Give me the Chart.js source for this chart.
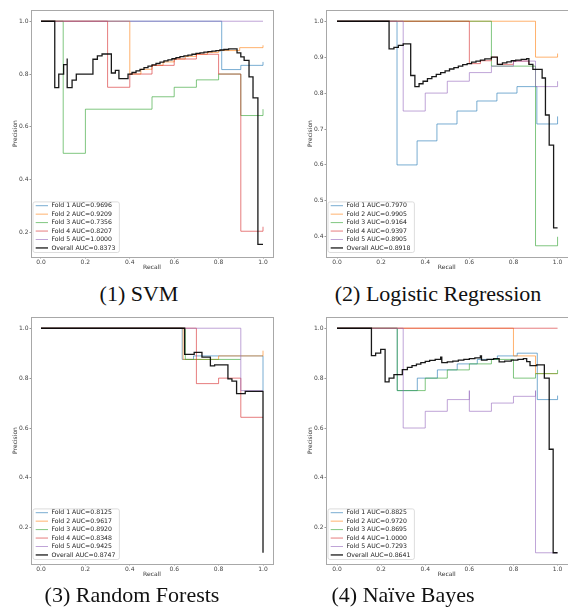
<!DOCTYPE html>
<html>
<head>
<meta charset="utf-8">
<script src="https://cdn.jsdelivr.net/npm/chart.js@4.4.0/dist/chart.umd.min.js"></script>
<style>
    body { margin: 0; background: #fff; width: 568px; height: 615px; position: relative; overflow: hidden; }
    canvas { position: absolute; }
    .cap { position: absolute; font-family: "Liberation Serif", serif; font-size: 22px; line-height: 22px; color: #111; transform: translateX(-50%); white-space: nowrap; }
</style>
</head>
<body>
<canvas id="svmChart" width="284" height="276" style="left:0px;top:0px"></canvas>
<canvas id="lrChart" width="284" height="276" style="left:284px;top:0px"></canvas>
<canvas id="rfChart" width="284" height="276" style="left:0px;top:307px"></canvas>
<canvas id="nbChart" width="284" height="276" style="left:284px;top:307px"></canvas>
<div class="cap" style="left:139px;top:283px">(1) SVM</div>
<div class="cap" style="left:438px;top:283px">(2) Logistic Regression</div>
<div class="cap" style="left:132px;top:584px">(3) Random Forests</div>
<div class="cap" style="left:403px;top:584px">(4) Naïve Bayes</div>

<script>
// curves are [recall, precision] pairs, drawn as post-steps
var svmLabels = ['Fold 1 AUC=0.9696', 'Fold 2 AUC=0.9209', 'Fold 3 AUC=0.7356', 'Fold 4 AUC=0.8207', 'Fold 5 AUC=1.0000', 'Overall AUC=0.8373'];
var svmFold1 = [[0, 1.0], [0.814, 0.817], [0.90, 0.833], [1.0, 0.846]];
var svmFold2 = [[0, 1.0], [0.40, 0.80], [0.45, 0.818], [0.50, 0.833], [0.55, 0.846], [0.60, 0.857], [0.65, 0.867], [0.70, 0.875], [0.75, 0.882], [0.80, 0.889], [0.895, 0.90], [1.0, 0.909]];
var svmFold3 = [[0, 1.0], [0.10, 0.50], [0.20, 0.667], [0.50, 0.714], [0.60, 0.75], [0.70, 0.778], [0.80, 0.80], [0.90, 0.643], [1.0, 0.667]];
var svmFold4 = [[0, 1.0], [0.30, 0.75], [0.40, 0.80], [0.50, 0.833], [0.60, 0.857], [0.70, 0.875], [0.80, 0.80], [0.90, 0.205], [1.0, 0.222]];
var svmFold5 = [[0, 1.0], [1.0, 1.0]];
var svmOverall = [[0, 1.0], [0.062, 0.749], [0.08, 0.80], [0.102, 0.836], [0.118, 0.859], [0.118, 0.749], [0.14, 0.777], [0.159, 0.80],
    [0.234, 0.856], [0.254, 0.869], [0.275, 0.876], [0.317, 0.804], [0.335, 0.814], [0.351, 0.783], [0.392, 0.80], [0.41, 0.806],
    [0.428, 0.812], [0.446, 0.818], [0.464, 0.824], [0.482, 0.83], [0.50, 0.835], [0.518, 0.84], [0.536, 0.845], [0.554, 0.85],
    [0.572, 0.854], [0.59, 0.858], [0.608, 0.862], [0.626, 0.866], [0.644, 0.869], [0.662, 0.872], [0.68, 0.875], [0.698, 0.878],
    [0.716, 0.88], [0.734, 0.883], [0.752, 0.885], [0.77, 0.887], [0.788, 0.889], [0.806, 0.891], [0.824, 0.893], [0.845, 0.895],
    [0.883, 0.88], [0.90, 0.865], [0.915, 0.852], [0.937, 0.789], [0.955, 0.71], [0.977, 0.155], [1.0, 0.155]];

var lrLabels = ['Fold 1 AUC=0.7970', 'Fold 2 AUC=0.9905', 'Fold 3 AUC=0.9164', 'Fold 4 AUC=0.9397', 'Fold 5 AUC=0.8905', 'Overall AUC=0.8918'];
var lrFold1 = [[0, 1.0], [0.272, 0.60], [0.363, 0.667], [0.453, 0.714], [0.544, 0.75], [0.634, 0.778], [0.725, 0.80], [0.816, 0.818], [0.906, 0.714], [1.0, 0.735]];
var lrFold2 = [[0, 1.0], [0.90, 0.90], [1.0, 0.91]];
var lrFold3 = [[0, 1.0], [0.70, 0.875], [0.90, 0.375], [1.0, 0.40]];
var lrFold4 = [[0, 1.0], [0.60, 0.882], [0.65, 0.89], [0.70, 0.90], [0.727, 0.88], [0.80, 0.889], [0.87, 0.88]];
var lrFold5 = [[0, 1.0], [0.30, 0.75], [0.40, 0.80], [0.50, 0.833], [0.60, 0.857], [0.70, 0.875], [0.80, 0.889], [0.90, 0.818], [1.0, 0.833]];
var lrOverall = [[0, 1.0], [0.236, 0.923], [0.258, 0.927], [0.278, 0.933], [0.30, 0.937], [0.334, 0.849], [0.353, 0.818], [0.372, 0.826],
    [0.39, 0.833], [0.41, 0.84], [0.43, 0.846], [0.45, 0.852], [0.47, 0.857], [0.49, 0.862], [0.51, 0.867], [0.53, 0.871],
    [0.55, 0.875], [0.57, 0.879], [0.59, 0.882], [0.61, 0.886], [0.63, 0.889], [0.65, 0.892], [0.67, 0.895], [0.70, 0.90],
    [0.727, 0.88], [0.75, 0.884], [0.77, 0.887], [0.79, 0.89], [0.81, 0.892], [0.835, 0.894], [0.86, 0.896], [0.87, 0.88],
    [0.888, 0.866], [0.93, 0.842], [0.945, 0.739], [0.962, 0.655], [0.982, 0.425], [1.0, 0.425]];

var rfLabels = ['Fold 1 AUC=0.8125', 'Fold 2 AUC=0.9617', 'Fold 3 AUC=0.8920', 'Fold 4 AUC=0.8348', 'Fold 5 AUC=0.9425', 'Overall AUC=0.8747'];
var rfFold1 = [[0, 1.0], [0.636, 0.875], [0.687, 0.889], [1.0, 0.75]];
var rfFold2 = [[0, 1.0], [0.64, 0.875], [0.80, 0.889], [1.0, 0.91]];
var rfFold3 = [[0, 1.0], [0.65, 0.875], [0.90, 0.875]];
var rfFold4 = [[0, 1.0], [0.70, 0.778], [0.80, 0.80], [0.90, 0.643], [1.0, 0.643]];
var rfFold5 = [[0, 1.0], [0.90, 0.75], [1.0, 0.75]];
var rfOverall = [[0, 1.0], [0.647, 0.895], [0.69, 0.903], [0.725, 0.884], [0.763, 0.849], [0.782, 0.853], [0.842, 0.797],
    [0.86, 0.788], [0.881, 0.738], [0.92, 0.747], [1.0, 0.1]];

var nbLabels = ['Fold 1 AUC=0.8825', 'Fold 2 AUC=0.9720', 'Fold 3 AUC=0.8695', 'Fold 4 AUC=1.0000', 'Fold 5 AUC=0.7293', 'Overall AUC=0.8641'];
var nbFold1 = [[0, 1.0], [0.273, 0.75], [0.364, 0.80], [0.455, 0.833], [0.545, 0.857], [0.636, 0.875], [0.727, 0.889], [0.817, 0.90], [0.908, 0.714], [1.0, 0.73]];
var nbFold2 = [[0, 1.0], [0.80, 0.889], [0.90, 0.818], [1.0, 0.818]];
var nbFold3 = [[0, 1.0], [0.273, 0.75], [0.40, 0.80], [0.50, 0.833], [0.60, 0.857], [0.70, 0.875], [0.80, 0.80], [0.90, 0.818], [1.0, 0.833]];
var nbFold4 = [[0, 1.0], [1.0, 1.0]];
var nbFold5 = [[0, 1.0], [0.30, 0.60], [0.40, 0.667], [0.50, 0.714], [0.60, 0.75], [0.60, 0.667], [0.70, 0.70], [0.80, 0.727], [0.90, 0.75], [0.90, 0.10], [1.0, 0.10]];
var nbOverall = [[0, 1.0], [0.156, 0.89], [0.175, 0.90], [0.198, 0.915], [0.218, 0.785], [0.236, 0.80], [0.258, 0.814], [0.296, 0.834],
    [0.319, 0.843], [0.34, 0.85], [0.36, 0.856], [0.38, 0.862], [0.40, 0.867], [0.42, 0.871], [0.445, 0.875], [0.47, 0.884],
    [0.475, 0.862], [0.50, 0.865], [0.525, 0.868], [0.55, 0.872], [0.575, 0.875], [0.60, 0.878], [0.625, 0.881], [0.65, 0.889],
    [0.655, 0.872], [0.68, 0.875], [0.71, 0.878], [0.735, 0.865], [0.76, 0.868], [0.79, 0.872], [0.82, 0.875], [0.845, 0.878],
    [0.86, 0.866], [0.875, 0.85], [0.905, 0.853], [0.94, 0.80], [0.962, 0.515], [0.98, 0.10], [1.0, 0.10]];

var recallTicks = [0.0, 0.2, 0.4, 0.6, 0.8, 1.0];
var precisionTicks = [0.2, 0.4, 0.6, 0.8, 1.0];
var precisionTicksLR = [0.4, 0.5, 0.6, 0.7, 0.8, 0.9, 1.0];

var foldColors = ['31, 119, 180', '255, 127, 14', '44, 160, 44', '214, 39, 40', '148, 103, 189'];
var tickFont = { family: '"DejaVu Sans", sans-serif', size: 6 };

var framePlugin = {
    id: 'frame',
    beforeDatasetsDraw: function (chart) {
        var a = chart.chartArea;
        var ctx = chart.ctx;
        ctx.save();
        ctx.strokeStyle = '#a8a8a8';
        ctx.lineWidth = 1;
        ctx.strokeRect(Math.round(a.left) + 0.5, Math.round(a.top) + 0.5, Math.round(a.right - a.left), Math.round(a.bottom - a.top));
        ctx.restore();
    }
};

var legendPlugin = {
    id: 'insideLegend',
    afterDatasetsDraw: function (chart) {
        var ctx = chart.ctx;
        var a = chart.chartArea;
        var sets = chart.data.datasets;
        ctx.save();
        ctx.font = '6.2px "DejaVu Sans"';
        var textW = 0;
        sets.forEach(function (ds) { textW = Math.max(textW, ctx.measureText(ds.label).width); });
        var rowH = 8.45;
        var w = 18.4 + textW + 4;
        var h = 50.6;
        var x = a.left + 2;
        var y = a.bottom - 4.5 - h;
        ctx.fillStyle = 'rgba(255, 255, 255, 0.85)';
        ctx.strokeStyle = '#d4d4d4';
        ctx.lineWidth = 0.8;
        ctx.beginPath();
        ctx.roundRect(x, y, w, h, 2);
        ctx.fill();
        ctx.stroke();
        sets.forEach(function (ds, i) {
            var cy = y + 3.8 + i * rowH;
            ctx.strokeStyle = ds.borderColor;
            ctx.lineWidth = ds.borderWidth;
            ctx.beginPath();
            ctx.moveTo(x + 2.7, cy);
            ctx.lineTo(x + 15, cy);
            ctx.stroke();
            ctx.fillStyle = '#222';
            ctx.textBaseline = 'middle';
            ctx.fillText(ds.label, x + 18.4, cy);
        });
        ctx.restore();
    }
};

function toPoints(pairs) {
    return pairs.map(function (p) { return { x: p[0], y: p[1] }; });
}

function makeChart(id, curves, labels, yMin, yMax, yTicks, yAxisW, padRight, xMin, xMax, yTitlePad) {
    var datasets = curves.map(function (c, i) {
        var overall = i === curves.length - 1;
        return {
            label: labels[i],
            data: toPoints(c),
            stepped: true,
            borderColor: overall ? 'rgba(0, 0, 0, 0.9)' : 'rgba(' + foldColors[i] + ', 0.6)',
            borderWidth: overall ? 1.3 : 1,
            pointRadius: 0,
            fill: false,
            order: overall ? 0 : curves.length - 1 - i
        };
    });
    return new Chart(document.getElementById(id).getContext('2d'), {
        type: 'line',
        data: { datasets: datasets },
        options: {
            responsive: false,
            animation: false,
            layout: { padding: { left: 0, top: 10, right: padRight, bottom: 0 } },
            plugins: { legend: { display: false }, tooltip: { enabled: false } },
            scales: {
                x: {
                    type: 'linear',
                    min: xMin,
                    max: xMax,
                    afterBuildTicks: function (scale) { scale.ticks = recallTicks.map(function (v) { return { value: v }; }); },
                    afterFit: function (scale) { scale.height = 19; },
                    grid: { drawOnChartArea: false, tickLength: 1.5, color: '#999' },
                    border: { display: false },
                    ticks: { font: tickFont, color: '#444', padding: 0, maxRotation: 0, callback: function (v) { return v.toFixed(1); } },
                    title: { display: true, text: 'Recall', font: tickFont, color: '#333', padding: { top: 0, bottom: 4.5 } }
                },
                y: {
                    type: 'linear',
                    min: yMin,
                    max: yMax,
                    afterBuildTicks: function (scale) { scale.ticks = yTicks.map(function (v) { return { value: v }; }); },
                    afterFit: function (scale) { scale.width = yAxisW; },
                    grid: { drawOnChartArea: false, tickLength: 1.5, color: '#999' },
                    border: { display: false },
                    ticks: { font: tickFont, color: '#444', padding: 1, callback: function (v) { return v.toFixed(1); } },
                    title: { display: true, text: 'Precision', font: tickFont, color: '#333', padding: { top: yTitlePad, bottom: 0 } }
                }
            }
        },
        plugins: [framePlugin, legendPlugin]
    });
}

makeChart('svmChart', [svmFold1, svmFold2, svmFold3, svmFold4, svmFold5, svmOverall], svmLabels, 0.1075, 1.0425, precisionTicks, 31, 11, -0.045, 1.045, 11.4);
makeChart('lrChart', [lrFold1, lrFold2, lrFold3, lrFold4, lrFold5, lrOverall], lrLabels, 0.34375, 1.03125, precisionTicksLR, 42, 0.5, -0.05, 1.045, 22.4);
makeChart('rfChart', [rfFold1, rfFold2, rfFold3, rfFold4, rfFold5, rfOverall], rfLabels, 0.055, 1.045, precisionTicks, 31, 11, -0.045, 1.045, 11.4);
makeChart('nbChart', [nbFold1, nbFold2, nbFold3, nbFold4, nbFold5, nbOverall], nbLabels, 0.055, 1.045, precisionTicks, 42, 0.5, -0.05, 1.045, 22.4);
</script>
</body>
</html>
